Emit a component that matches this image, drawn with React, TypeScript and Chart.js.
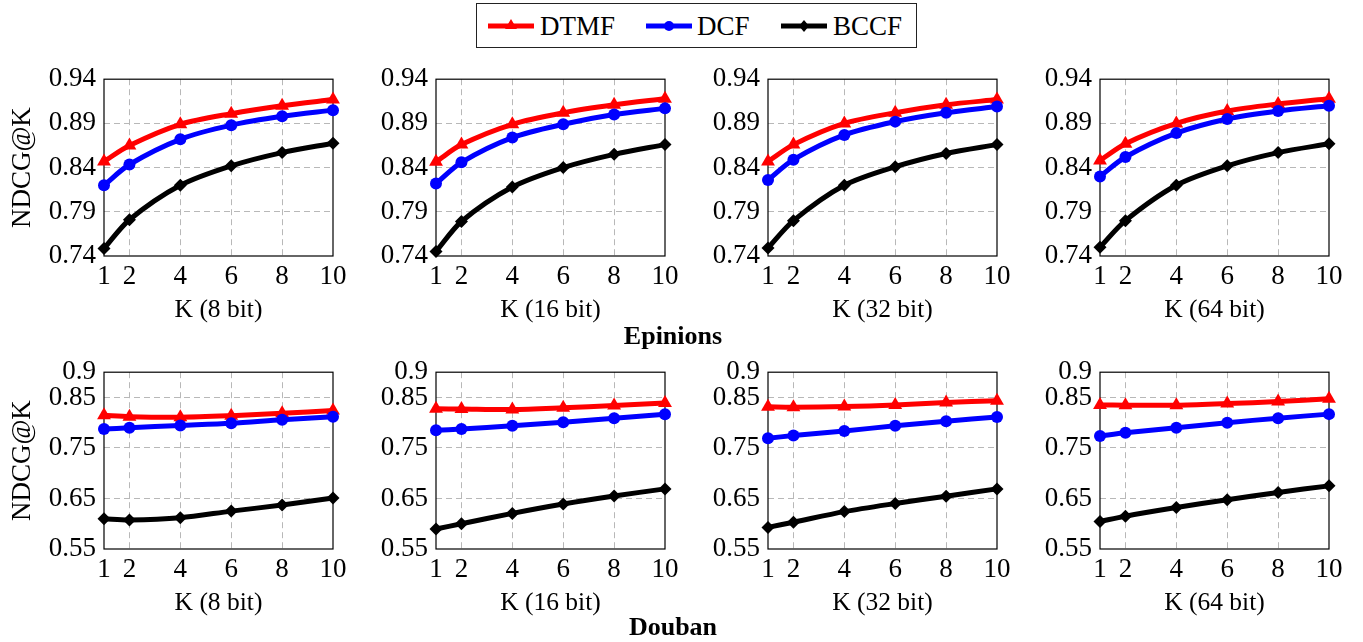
import React, { useEffect, useRef } from 'react';
import { Chart, registerables } from 'chart.js';
Chart.register(...registerables);

// ---------- data ----------
const kValues = [1, 2, 4, 6, 8, 10];
const xTickValues = [1, 2, 4, 6, 8, 10];
const epinionsYTicks = [0.74, 0.79, 0.84, 0.89, 0.94];
const doubanYTicks = [0.55, 0.65, 0.75, 0.85, 0.9];
const bitLabels = ['K (8 bit)', 'K (16 bit)', 'K (32 bit)', 'K (64 bit)'];
const seriesNames = ['DTMF', 'DCF', 'BCCF'];
const yAxisTitle = 'NDCG@K';
const datasetTitles = ['Epinions', 'Douban'];

const ep8DTMF = [0.847, 0.865, 0.889, 0.901, 0.910, 0.917];
const ep8DCF = [0.820, 0.8435, 0.872, 0.888, 0.898, 0.905];
const ep8BCCF = [0.7485, 0.781, 0.820, 0.842, 0.857, 0.8675];

const ep16DTMF = [0.8465, 0.866, 0.889, 0.902, 0.911, 0.918];
const ep16DCF = [0.822, 0.846, 0.874, 0.889, 0.900, 0.907];
const ep16BCCF = [0.745, 0.779, 0.818, 0.840, 0.855, 0.866];

const ep32DTMF = [0.847, 0.866, 0.890, 0.902, 0.911, 0.917];
const ep32DCF = [0.826, 0.849, 0.877, 0.892, 0.902, 0.909];
const ep32BCCF = [0.749, 0.780, 0.820, 0.841, 0.856, 0.866];

const ep64DTMF = [0.848, 0.867, 0.890, 0.904, 0.912, 0.918];
const ep64DCF = [0.830, 0.852, 0.879, 0.895, 0.904, 0.910];
const ep64BCCF = [0.750, 0.780, 0.820, 0.842, 0.857, 0.867];

const db8DTMF = [0.8146, 0.812, 0.811, 0.814, 0.8185, 0.824];
const db8DCF = [0.7875, 0.790, 0.7945, 0.799, 0.806, 0.812];
const db8BCCF = [0.610, 0.6076, 0.612, 0.625, 0.637, 0.651];

const db16DTMF = [0.8276, 0.827, 0.826, 0.8295, 0.834, 0.839];
const db16DCF = [0.785, 0.7875, 0.794, 0.801, 0.809, 0.8166];
const db16BCCF = [0.5895, 0.600, 0.6205, 0.639, 0.655, 0.669];

const db32DTMF = [0.8314, 0.8308, 0.832, 0.835, 0.840, 0.8436];
const db32DCF = [0.7693, 0.7745, 0.7836, 0.794, 0.803, 0.8114];
const db32BCCF = [0.5928, 0.603, 0.624, 0.640, 0.6545, 0.669];

const db64DTMF = [0.8353, 0.8347, 0.8347, 0.838, 0.8418, 0.8476];
const db64DCF = [0.7739, 0.780, 0.790, 0.800, 0.809, 0.817];
const db64BCCF = [0.6045, 0.615, 0.632, 0.6475, 0.662, 0.675];

// ---------- layout / style ----------
const FONT = "'Liberation Serif', 'Times New Roman', serif";
const COLORS = ['#ff0000', '#0000ff', '#000000'];
const POINT_STYLES = ['triangle', 'circle', 'rectRot'];
const POINT_RADII = [8, 6, 6.5];
const colLefts = [104, 436, 768, 1100];
const rowTops = [75, 368];
const PLOT_W = 229;
const PLOT_H = 181;
const Y_AXIS_W = 95;
const PAD_TOP = 20;
const PAD_RIGHT = 20;
const X_AXIS_H = 67;
const PAD_BOTTOM = 2;

const framePlugin = {
  id: 'frame',
  beforeDatasetsDraw(chart: any) {
    const { ctx, chartArea } = chart;
    ctx.save();
    ctx.strokeStyle = '#000';
    ctx.lineWidth = 1.2;
    ctx.strokeRect(chartArea.left, chartArea.top, chartArea.right - chartArea.left, chartArea.bottom - chartArea.top);
    ctx.restore();
  },
};

type PanelProps = {
  col: number;
  row: number;
  series: number[][];
  yTicks: number[];
  xTitle: string;
  showYTitle: boolean;
};

function Panel({ col, row, series, yTicks, xTitle, showYTitle }: PanelProps) {
  const ref = useRef<HTMLCanvasElement | null>(null);
  const width = Y_AXIS_W + PLOT_W + PAD_RIGHT;
  const height = PAD_TOP + PLOT_H + X_AXIS_H + PAD_BOTTOM;
  const left = colLefts[col] - Y_AXIS_W;
  const top = rowTops[row] - PAD_TOP;

  useEffect(() => {
    if (!ref.current) return;
    const yMin = yTicks[0];
    const yMax = yTicks[yTicks.length - 1];
    const xMin = xTickValues[0];
    const xMax = xTickValues[xTickValues.length - 1];
    const chart = new Chart(ref.current, {
      type: 'line',
      data: {
        datasets: series.map((vals, i) => ({
          label: seriesNames[i],
          data: kValues.map((k, j) => ({ x: k, y: vals[j] })),
          borderColor: COLORS[i],
          backgroundColor: COLORS[i],
          borderWidth: 5,
          pointStyle: POINT_STYLES[i] as any,
          pointRadius: POINT_RADII[i],
          pointBorderWidth: 0,
          tension: 0.3,
          clip: false as any,
          order: 2 - i,
        })),
      },
      options: {
        animation: false,
        responsive: false,
        events: [],
        layout: { padding: { top: PAD_TOP, right: PAD_RIGHT, bottom: PAD_BOTTOM, left: 0 } },
        plugins: { legend: { display: false }, tooltip: { enabled: false } },
        scales: {
          x: {
            type: 'linear',
            min: xMin,
            max: xMax,
            afterBuildTicks: (s: any) => { s.ticks = xTickValues.map((v) => ({ value: v })); },
            afterFit: (s: any) => { s.height = X_AXIS_H; },
            ticks: {
              autoSkip: false,
              maxRotation: 0,
              padding: 5,
              color: '#000',
              font: { family: FONT, size: 27 },
              callback: (v: any) => String(v),
            },
            grid: {
              drawTicks: false,
              color: (c: any) => (c.tick && (c.tick.value === xMin || c.tick.value === xMax) ? 'rgba(0,0,0,0)' : '#b8b8b8'),
              lineWidth: 1,
            },
            border: { display: false, dash: [6, 4] },
            title: {
              display: true,
              text: xTitle,
              color: '#000',
              font: { family: FONT, size: 25.5, lineHeight: 1 },
              padding: { top: 0, bottom: 0 },
            },
          },
          y: {
            type: 'linear',
            min: yMin,
            max: yMax,
            afterBuildTicks: (s: any) => { s.ticks = yTicks.map((v) => ({ value: v })); },
            afterFit: (s: any) => { s.width = Y_AXIS_W; },
            ticks: {
              autoSkip: false,
              padding: 8,
              color: '#000',
              font: { family: FONT, size: 27 },
              callback: (v: any) => String(v),
            },
            grid: {
              drawTicks: false,
              color: (c: any) => (c.tick && (c.tick.value === yMin || c.tick.value === yMax) ? 'rgba(0,0,0,0)' : '#b8b8b8'),
              lineWidth: 1,
            },
            border: { display: false, dash: [6, 4] },
            title: {
              display: showYTitle,
              text: yAxisTitle,
              color: '#000',
              font: { family: FONT, size: 27, lineHeight: 1 },
              padding: { top: 0, bottom: 0 },
            },
          },
        },
      },
      plugins: [framePlugin],
    } as any);
    return () => chart.destroy();
  }, []);

  return (
    <canvas
      ref={ref}
      width={width}
      height={height}
      style={{ position: 'absolute', left, top, width, height }}
    />
  );
}

function LegendSample({ i }: { i: number }) {
  const c = COLORS[i];
  let marker: any = null;
  if (i === 0) marker = <polygon points="23,15 29,25 17,25" fill={c} />;
  else if (i === 1) marker = <circle cx="23" cy="22" r="5" fill={c} />;
  else marker = <polygon points="23,16 28,22 23,28 18,22" fill={c} />;
  return (
    <svg width="46" height="44" style={{ position: 'absolute', left: 0, top: 0 }}>
      <line x1="0" y1="22" x2="46" y2="22" stroke={c} strokeWidth="5" />
      {marker}
    </svg>
  );
}

const legendSampleLefts = [11, 169, 304];
const legendTextLefts = [63, 220, 356];

export default function App() {
  const epinions = [
    [ep8DTMF, ep8DCF, ep8BCCF],
    [ep16DTMF, ep16DCF, ep16BCCF],
    [ep32DTMF, ep32DCF, ep32BCCF],
    [ep64DTMF, ep64DCF, ep64BCCF],
  ];
  const douban = [
    [db8DTMF, db8DCF, db8BCCF],
    [db16DTMF, db16DCF, db16BCCF],
    [db32DTMF, db32DCF, db32BCCF],
    [db64DTMF, db64DCF, db64BCCF],
  ];
  return (
    <div style={{ position: 'absolute', left: 0, top: 0, width: 1363, height: 642, overflow: 'hidden', background: '#fff', fontFamily: FONT }}>
      {/* legend */}
      <div style={{ position: 'absolute', left: 476, top: 3, width: 441, height: 45, border: '1.3px solid #222', boxSizing: 'border-box' }}>
        {seriesNames.map((name, i) => (
          <React.Fragment key={name}>
            <div style={{ position: 'absolute', left: legendSampleLefts[i], top: 0, width: 46, height: 44 }}>
              <LegendSample i={i} />
            </div>
            <div style={{ position: 'absolute', left: legendTextLefts[i], top: 0, height: 44, lineHeight: '44px', fontSize: 27, color: '#000' }}>{name}</div>
          </React.Fragment>
        ))}
      </div>
      {epinions.map((s, c) => (
        <Panel key={'e' + c} col={c} row={0} series={s} yTicks={epinionsYTicks} xTitle={bitLabels[c]} showYTitle={c === 0} />
      ))}
      {douban.map((s, c) => (
        <Panel key={'d' + c} col={c} row={1} series={s} yTicks={doubanYTicks} xTitle={bitLabels[c]} showYTitle={c === 0} />
      ))}
      <div style={{ position: 'absolute', left: 573, width: 200, top: 321, lineHeight: '30px', textAlign: 'center', fontSize: 26, fontWeight: 'bold', color: '#000' }}>{datasetTitles[0]}</div>
      <div style={{ position: 'absolute', left: 573, width: 200, top: 612, lineHeight: '30px', textAlign: 'center', fontSize: 26, fontWeight: 'bold', color: '#000' }}>{datasetTitles[1]}</div>
    </div>
  );
}
